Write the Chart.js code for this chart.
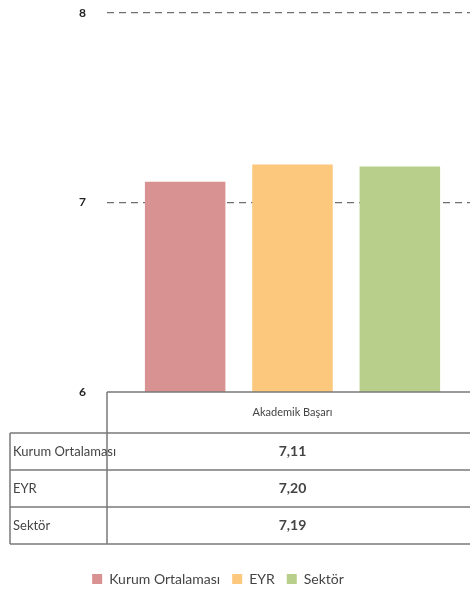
<!DOCTYPE html>
<html>
<head>
<meta charset="utf-8">
<script src="https://cdn.jsdelivr.net/npm/chart.js@4.4.1/dist/chart.umd.min.js"></script>
<style>
  html, body { margin: 0; padding: 0; background: #fff; overflow: hidden; }
  #wrap { width: 470px; height: 596px; overflow: hidden; }
</style>
</head>
<body>
<div id="wrap"><canvas id="grafik" width="478" height="596"></canvas></div>
<script>
// veriler
const categories = ['Akademik Başarı'];
const seriesNames = ['Kurum Ortalaması', 'EYR', 'Sektör'];
const seriesValues = [7.11, 7.20, 7.19];
const seriesColors = ['rgb(217,146,146)', 'rgb(252,200,125)', 'rgb(184,206,139)'];
const yTicks = [6, 7, 8];

const FONT = 'Lato, "Liberation Sans", sans-serif';

function fmt(v) {
    return v.toFixed(2).replace('.', ',');
}

// tablo (Excel veri tablosu gibi) x ekseni alaninda ciziliyor
const veriTablosu = {
    id: 'veriTablosu',
    afterDraw(chart) {
        const ctx = chart.ctx;
        const ca = chart.chartArea;
        const xs = chart.scales.x;
        const top = Math.round(ca.bottom);
        const headerH = 41, rowH = 37;
        const leftX = 10, midX = Math.round(ca.left), rightX = chart.width;
        const cx = xs.getPixelForValue(0);

        ctx.save();
        ctx.strokeStyle = '#7a7a7a';
        ctx.lineWidth = 1.5;
        ctx.beginPath();
        // ust cizgi
        ctx.moveTo(midX, top); ctx.lineTo(rightX, top);
        // satir cizgileri
        for (let i = 0; i <= seriesValues.length; i++) {
            const y = top + headerH + i * rowH;
            ctx.moveTo(leftX, y); ctx.lineTo(rightX, y);
        }
        const bottom = top + headerH + seriesValues.length * rowH;
        ctx.moveTo(midX, top); ctx.lineTo(midX, bottom);
        ctx.moveTo(leftX, top + headerH); ctx.lineTo(leftX, bottom);
        ctx.stroke();

        ctx.fillStyle = '#444';
        ctx.textBaseline = 'middle';
        ctx.textAlign = 'center';
        ctx.font = '11px ' + FONT;
        ctx.fillText(categories[0], cx, top + headerH / 2);

        for (let i = 0; i < seriesValues.length; i++) {
            const y = top + headerH + i * rowH + rowH / 2;
            ctx.textAlign = 'center';
            ctx.font = 'bold 14px ' + FONT;
            ctx.fillText(fmt(seriesValues[i]), cx, y);
            ctx.textAlign = 'left';
            ctx.font = '13px ' + FONT;
            ctx.fillText(seriesNames[i], leftX + 3, y);
        }
        ctx.restore();
    }
};

const datasets = seriesNames.map((name, i) => ({
    label: name,
    data: [seriesValues[i]],
    backgroundColor: seriesColors[i],
    borderWidth: 0
}));

const config = {
    type: 'bar',
    data: { labels: categories, datasets: datasets },
    options: {
        responsive: false,
        animation: false,
        layout: { padding: { top: 13, left: -42, right: 0, bottom: 0 } },
        datasets: {
            bar: { categoryPercentage: 0.868, barPercentage: 0.75 }
        },
        scales: {
            x: {
                display: true,
                grid: { display: false },
                border: { display: false },
                ticks: { display: false },
                afterFit: (s) => { s.height = 168; }
            },
            y: {
                min: 6,
                max: 8,
                afterFit: (s) => { s.width = 149; },
                afterBuildTicks: (s) => { s.ticks = yTicks.map(v => ({ value: v })); },
                grid: {
                    drawTicks: true,
                    tickLength: 21,
                    tickColor: 'rgba(0,0,0,0)',
                    color: (c) => (c.tick && c.tick.value === 6) ? 'rgba(0,0,0,0)' : '#6f6f6f',
                    lineWidth: 1.2
                },
                border: { display: false, dash: [7, 5] },
                ticks: {
                    padding: 0,
                    color: '#222',
                    font: { family: FONT, size: 12, weight: 'bold' }
                }
            }
        },
        plugins: {
            legend: {
                position: 'bottom',
                labels: {
                    boxWidth: 10,
                    boxHeight: 10,
                    padding: 12,
                    color: '#444',
                    font: { family: FONT, size: 14 }
                }
            },
            tooltip: { enabled: false }
        }
    },
    plugins: [veriTablosu]
};

const ctx = document.getElementById('grafik').getContext('2d');
const grafik = new Chart(ctx, config);
</script>
</body>
</html>
